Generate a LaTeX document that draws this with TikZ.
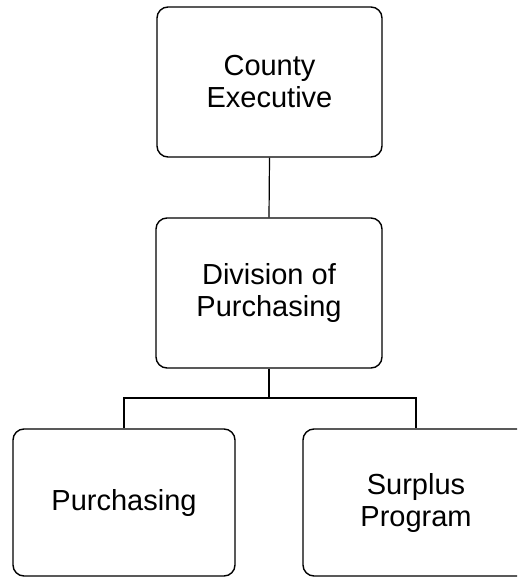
\documentclass[tikz,border=0pt]{standalone}
\usepackage{fontspec}
\setmainfont{Liberation Sans}
\begin{document}
\begin{tikzpicture}[x=1pt,y=-1pt,
  orgbox/.style={draw=black, line width=1.4pt, rounded corners=11pt,
    rectangle, inner sep=0pt, align=center,
    font=\fontsize{29}{32}\selectfont},
  link/.style={draw=black, line width=1.2pt}]
  \useasboundingbox (0,0) rectangle (517,577);
  \clip (0,0) rectangle (517,577);
  % boxes, placed by their centres
  \node[orgbox, minimum width=225pt, minimum height=150pt] (exec) at (269.5,82) {County\\Executive};
  \node[orgbox, minimum width=226pt, minimum height=150pt] (div) at (269,293) {Division of\\Purchasing};
  \node[orgbox, minimum width=222pt, minimum height=147pt] (purch) at (124,502.5) {Purchasing};
  \node[orgbox, minimum width=226pt, minimum height=147pt] (surp) at (416,502.5) {Surplus\\Program};
  % reporting lines
  \coordinate (bus) at (269,398);
  \draw[link] (exec.south) -- (div.north);
  \draw[link] (div.south) -- (bus);
  \draw[link] (purch.north) |- (bus) -| (surp.north);
\end{tikzpicture}
\end{document}
